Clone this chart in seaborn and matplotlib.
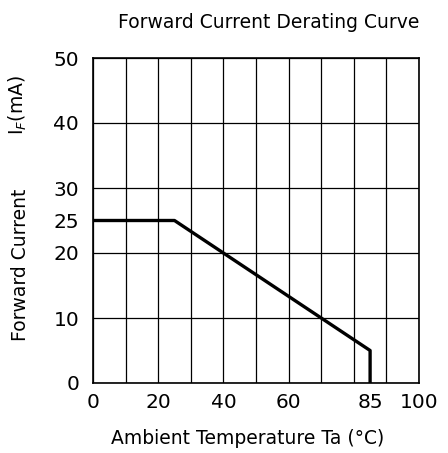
import matplotlib
matplotlib.use("Agg")
import matplotlib.pyplot as plt
import seaborn as sns
import pandas as pd

# Data
temperature = [0, 25, 85, 85]
forward_current = [25, 25, 5, 0]
x_tick_labels = [0, 20, 40, 60, 85, 100]
y_tick_labels = [0, 10, 20, 25, 30, 40, 50]
x_grid = [0, 10, 20, 30, 40, 50, 60, 70, 80, 90, 100]
y_grid = [0, 10, 20, 30, 40, 50]

sns.set_theme(style="white")
plt.rcParams['font.family'] = ['DejaVu Sans']

W, H = 448, 453
fig = plt.figure(figsize=(W / 100, H / 100), dpi=100)
ax = fig.add_axes([93 / W, 1 - 383 / H, (419 - 93) / W, (383 - 58) / H])

df = pd.DataFrame({"Ta": temperature, "IF": forward_current})
sns.lineplot(data=df, x="Ta", y="IF", sort=False, estimator=None,
             color="black", linewidth=2.4, ax=ax)

ax.set_xlim(0, 100)
ax.set_ylim(0, 50)

ax.xaxis.remove_overlapping_locs = False
ax.yaxis.remove_overlapping_locs = False
# grid on major ticks (unlabelled), labels on minor ticks
ax.set_xticks(x_grid)
ax.set_xticklabels([])
ax.set_yticks(y_grid)
ax.set_yticklabels([])
ax.set_xticks(x_tick_labels, minor=True)
ax.set_xticklabels([str(v) for v in x_tick_labels], minor=True)
ax.set_yticks(y_tick_labels, minor=True)
ax.set_yticklabels([str(v) for v in y_tick_labels], minor=True)
ax.tick_params(which="both", length=0)
ax.tick_params(axis="x", which="minor", labelsize=14.5, pad=7, colors="black")
ax.tick_params(axis="y", which="minor", labelsize=14.5, pad=10, colors="black")
ax.grid(True, which="major", color="black", linewidth=0.9)
ax.set_axisbelow(True)
for s in ax.spines.values():
    s.set_color("black")
    s.set_linewidth(1.2)
ax.set_xlabel("")
ax.set_ylabel("")

fig.text(269 / W, 1 - 22 / H, "Forward Current Derating Curve",
         ha="center", va="center", fontsize=13.5, color="black")
fig.text(248 / W, 1 - 438 / H, "Ambient Temperature Ta (°C)",
         ha="center", va="center", fontsize=13.5, color="black")
fig.text(20 / W, 1 - 265 / H, "Forward Current", rotation=90,
         ha="center", va="center", fontsize=13.5, color="black")
fig.text(18 / W, 1 - 105 / H, r"I$_F$(mA)", rotation=90,
         ha="center", va="center", fontsize=13.5, color="black")

fig.savefig("out.png", dpi=100, facecolor="white")
